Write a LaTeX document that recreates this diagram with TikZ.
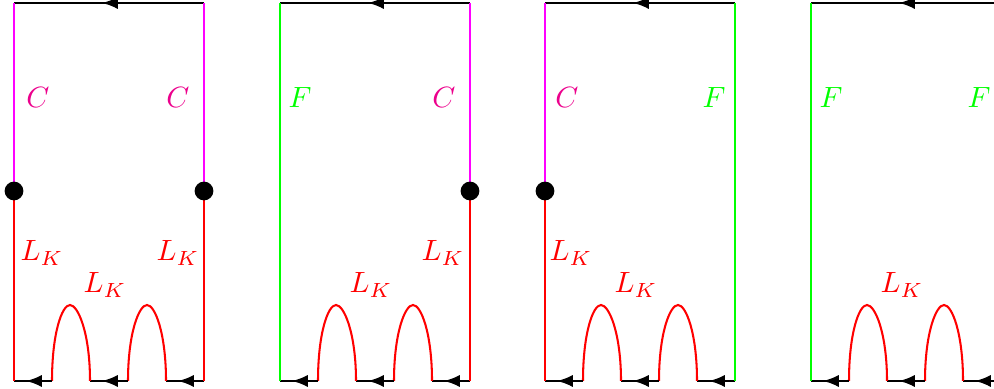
\documentclass[tikz,border=0pt]{standalone}
\usetikzlibrary{decorations.markings,arrows}
\definecolor{cmag}{RGB}{255,0,255}
\definecolor{cmagtext}{RGB}{236,0,140}
\definecolor{fgreen}{RGB}{0,255,0}
\definecolor{lred}{RGB}{255,0,0}
\tikzset{
  wire/.style={line width=0.7pt},
  midarrow/.style={wire,black,postaction={decorate},
    decoration={markings,mark=at position 0.5 with {\arrow[xshift=2.4pt,scale=1.1]{latex}}}},
  cline/.style={wire,cmag},
  fline/.style={wire,fgreen},
  lline/.style={wire,lred},
  dot/.style={circle,fill=black,inner sep=0pt,minimum size=6.4pt},
  clab/.style={text=cmagtext},
  flab/.style={text=fgreen},
  llab/.style={text=lred},
}
% frame: coordinates with prefix #1
\newcommand{\mkframe}[1]{%
  \coordinate (#1tl) at (14,3);
  \coordinate (#1tr) at (204,3);
  \coordinate (#1bl) at (14,381);
  \coordinate (#1br) at (204,381);
  \coordinate (#1ml) at (14,191);
  \coordinate (#1mr) at (204,191);
  \coordinate (#1a1) at (52,381);
  \coordinate (#1a2) at (90,381);
  \coordinate (#1a3) at (128,381);
  \coordinate (#1a4) at (166,381);
  \coordinate (#1p1) at (70,305);
  \coordinate (#1p2) at (147,305);
  \draw[midarrow] (#1tr) -- (#1tl);
  \draw[midarrow] (#1br) -- (#1a4);
  \draw[lline] (#1a4) .. controls +(0,-48) and +(8,0) .. (#1p2)
                      .. controls +(-8,0) and +(0,-48) .. (#1a3);
  \draw[midarrow] (#1a3) -- (#1a2);
  \draw[lline] (#1a2) .. controls +(0,-48) and +(8,0) .. (#1p1)
                      .. controls +(-8,0) and +(0,-48) .. (#1a1);
  \draw[midarrow] (#1a1) -- (#1bl);
  \node[llab] (#1lkm) at (105,285) {$L_K$};
}
\begin{document}
\begin{tikzpicture}[x=0.341pt,y=-0.341pt]
\path[use as bounding box] (0,0) rectangle (994,389);
\clip (0,0) rectangle (994,389);
% panel 1
\begin{scope}
  \mkframe{p}
  \draw[cline] (ptl) -- (pml);
  \draw[lline] (pml) -- (pbl);
  \draw[cline] (ptr) -- (pmr);
  \draw[lline] (pmr) -- (pbr);
  \node[dot] (pdl) at (pml) {};
  \node[dot] (pdr) at (pmr) {};
  \node[clab] (pcl) at (38,97) {$C$};
  \node[clab] (pcr) at (178,97) {$C$};
  \node[llab] (pll) at (42,253) {$L_K$};
  \node[llab] (plr) at (178,253) {$L_K$};
\end{scope}
% panel 2
\begin{scope}[shift={(266,0)}]
  \mkframe{q}
  \draw[fline] (qtl) -- (qbl);
  \draw[cline] (qtr) -- (qmr);
  \draw[lline] (qmr) -- (qbr);
  \node[dot] (qdr) at (qmr) {};
  \node[flab] (qfl) at (34,97) {$F$};
  \node[clab] (qcr) at (178,97) {$C$};
  \node[llab] (qlr) at (177,253) {$L_K$};
\end{scope}
% panel 3
\begin{scope}[shift={(531,0)}]
  \mkframe{r}
  \draw[cline] (rtl) -- (rml);
  \draw[lline] (rml) -- (rbl);
  \draw[fline] (rtr) -- (rbr);
  \node[dot] (rdl) at (rml) {};
  \node[clab] (rcl) at (36,97) {$C$};
  \node[flab] (rfr) at (183,97) {$F$};
  \node[llab] (rll) at (40,253) {$L_K$};
\end{scope}
% panel 4
\begin{scope}[shift={(797,0)}]
  \mkframe{s}
  \draw[fline] (stl) -- (sbl);
  \draw[fline] (str) -- (sbr);
  \node[flab] (sfl) at (34,97) {$F$};
  \node[flab] (sfr) at (182,97) {$F$};
\end{scope}
\end{tikzpicture}
\end{document}
